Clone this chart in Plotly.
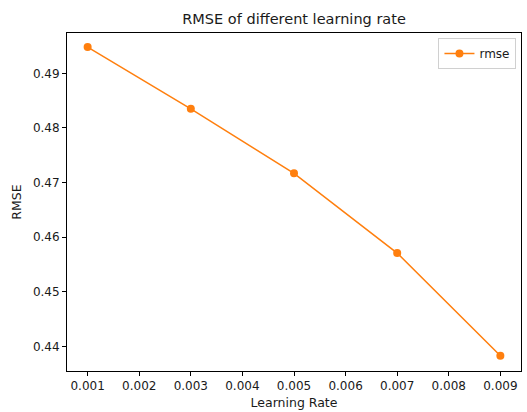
import plotly.graph_objects as go

learning_rates = [0.001, 0.003, 0.005, 0.007, 0.009]
rmse = [0.4948, 0.4835, 0.4717, 0.4571, 0.4383]
x_ticks = [0.001, 0.002, 0.003, 0.004, 0.005, 0.006, 0.007, 0.008, 0.009]
y_ticks = [0.44, 0.45, 0.46, 0.47, 0.48, 0.49]

color = "#ff7f0e"
font = "DejaVu Sans"
txt = "#1a1a1a"

fig = go.Figure()
fig.add_trace(go.Scatter(
    x=learning_rates, y=rmse, mode="lines+markers", name="rmse",
    line=dict(color=color, width=1.5),
    marker=dict(color=color, size=8),
))

axis_common = dict(
    showgrid=False, zeroline=False, showline=True, linecolor="black", linewidth=1,
    mirror=True, ticks="outside", ticklen=4, tickcolor="black",
    tickfont=dict(family=font, size=12, color=txt),
)

fig.update_layout(
    width=527, height=412,
    margin=dict(l=67, r=5, t=33, b=39),
    paper_bgcolor="white", plot_bgcolor="white",
    title=dict(text="RMSE of different learning rate", x=0.558, xanchor="center",
               y=0.955, yanchor="middle",
               font=dict(family=font, size=14.5, color=txt)),
    xaxis=dict(range=[0.0006, 0.0094], tickvals=x_ticks,
               ticktext=[f"{v:.3f}" for v in x_ticks],
               title=dict(text="Learning Rate", font=dict(family=font, size=12.5, color=txt), standoff=5),
               **axis_common),
    yaxis=dict(range=[0.43551, 0.49738], tickvals=y_ticks,
               ticktext=[f"{v:.2f}" for v in y_ticks],
               title=dict(text="RMSE", font=dict(family=font, size=12.5, color=txt), standoff=8),
               **axis_common),
    showlegend=True,
    legend=dict(x=0.99, y=0.985, xanchor="right", yanchor="top",
                bgcolor="rgba(255,255,255,0.8)", bordercolor="#d0d0d0", borderwidth=1,
                font=dict(family=font, size=12, color=txt),
                itemwidth=30),
)

fig.write_html("out.html", config={"displayModeBar": False},
               post_script="document.body.style.margin='0';document.body.style.overflow='hidden';")
